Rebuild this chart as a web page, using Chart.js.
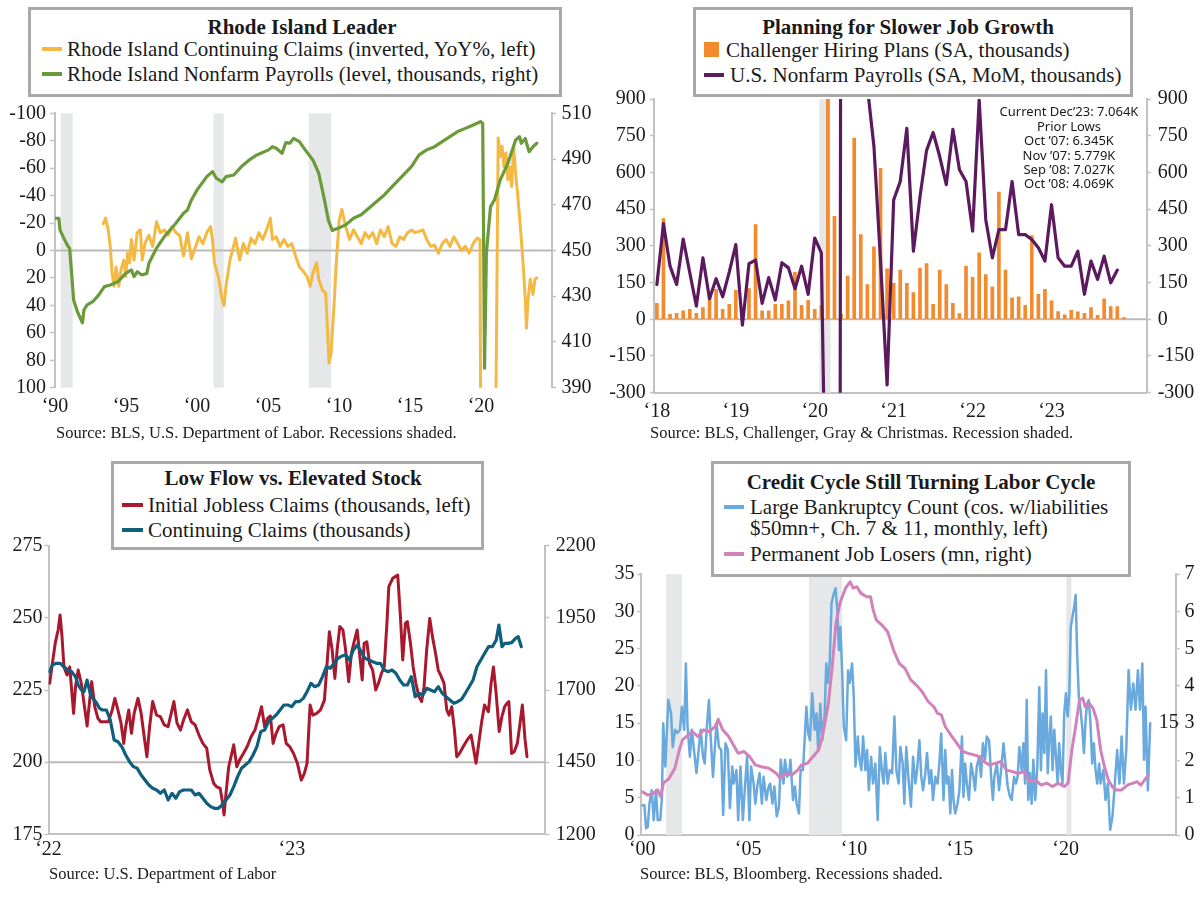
<!DOCTYPE html>
<html><head><meta charset="utf-8">
<script src="https://cdn.jsdelivr.net/npm/chart.js@4.4.0/dist/chart.umd.min.js"></script>
<style>
body{margin:0;background:#fff;width:1200px;height:898px;position:relative;overflow:hidden;}
canvas{position:absolute;}
.box{position:absolute;box-sizing:border-box;border:3px solid #a8a8a8;background:#fff;}
.t{position:absolute;white-space:nowrap;line-height:24px;height:24px;font-family:'Liberation Serif','Times New Roman',serif;font-size:21px;color:#1a1a1a;}
.b{font-weight:bold;}
.c{transform:translateX(-50%);}
.src{font-size:16.5px;}
.ann{position:absolute;white-space:nowrap;font-family:'Noto Sans',sans-serif;font-size:13px;line-height:14px;color:#1a1a1a;transform:translateX(-50%);}
.sw{position:absolute;}
</style></head>
<body>
<canvas id="c1" width="600" height="450" style="left:0;top:0"></canvas>
<canvas id="c2" width="600" height="450" style="left:600px;top:0"></canvas>
<canvas id="c3" width="600" height="448" style="left:0;top:450px"></canvas>
<canvas id="c4" width="600" height="448" style="left:600px;top:450px"></canvas>

<!-- Panel 1 legend -->
<div class="box" style="left:28px;top:7px;width:534px;height:90px"></div>
<div class="t b c" style="left:302px;top:15px">Rhode Island Leader</div>
<div class="sw" style="left:42px;top:47px;width:20px;height:4px;background:#F4B942"></div>
<div class="t" style="left:67px;top:37px">Rhode Island Continuing Claims (inverted, YoY%, left)</div>
<div class="sw" style="left:42px;top:72px;width:20px;height:4px;background:#6B9A3B"></div>
<div class="t" style="left:67px;top:62px">Rhode Island Nonfarm Payrolls (level, thousands, right)</div>
<div class="t src" style="left:56px;top:421px">Source: BLS, U.S. Department of Labor. Recessions shaded.</div>

<!-- Panel 2 legend -->
<div class="box" style="left:693px;top:7px;width:440px;height:90px"></div>
<div class="t b c" style="left:908px;top:15px">Planning for Slower Job Growth</div>
<div class="sw" style="left:704px;top:42px;width:15px;height:15px;background:#F28A2E"></div>
<div class="t" style="left:726px;top:38px">Challenger Hiring Plans (SA, thousands)</div>
<div class="sw" style="left:704px;top:73px;width:20px;height:4px;background:#5C1A5E"></div>
<div class="t" style="left:730px;top:63px">U.S. Nonfarm Payrolls (SA, MoM, thousands)</div>
<div class="t src" style="left:650px;top:421px">Source: BLS, Challenger, Gray &amp; Christmas. Recession shaded.</div>
<div class="ann" style="left:1069px;top:104px">Current Dec’23: 7.064K</div>
<div class="ann" style="left:1069px;top:119px">Prior Lows</div>
<div class="ann" style="left:1069px;top:133px">Oct ’07: 6.345K</div>
<div class="ann" style="left:1069px;top:148px">Nov ’07: 5.779K</div>
<div class="ann" style="left:1069px;top:162px">Sep ’08: 7.027K</div>
<div class="ann" style="left:1069px;top:176px">Oct ’08: 4.069K</div>

<!-- Panel 3 legend -->
<div class="box" style="left:111px;top:461px;width:373px;height:89px"></div>
<div class="t b c" style="left:293px;top:466px">Low Flow vs. Elevated Stock</div>
<div class="sw" style="left:122px;top:503px;width:21px;height:4px;background:#A8192E"></div>
<div class="t" style="left:148px;top:493px">Initial Jobless Claims (thousands, left)</div>
<div class="sw" style="left:122px;top:528px;width:21px;height:4px;background:#0F5E7B"></div>
<div class="t" style="left:148px;top:518px">Continuing Claims (thousands)</div>
<div class="t src" style="left:49px;top:862px">Source: U.S. Department of Labor</div>

<!-- Panel 4 legend -->
<div class="box" style="left:711px;top:461px;width:420px;height:116px"></div>
<div class="t b c" style="left:921px;top:470px">Credit Cycle Still Turning Labor Cycle</div>
<div class="sw" style="left:724px;top:505px;width:20px;height:4px;background:#6AA9DE"></div>
<div class="t" style="left:750px;top:495px">Large Bankruptcy Count (cos. w/liabilities</div>
<div class="t" style="left:750px;top:516px">$50mn+, Ch. 7 &amp; 11, monthly, left)</div>
<div class="sw" style="left:724px;top:552px;width:20px;height:4px;background:#D282BA"></div>
<div class="t" style="left:750px;top:542px">Permanent Job Losers (mn, right)</div>
<div class="t src" style="left:640px;top:862px">Source: BLS, Bloomberg. Recessions shaded.</div>

<script>
// ---------------- DATA ----------------
// Panel 1: Rhode Island
const riPayYears = [1990.00,1990.27,1990.35,1990.63,1990.90,1991.03,1991.17,1991.31,1991.58,1991.93,1992.04,1992.26,1992.66,1993.07,1993.48,1993.89,1994.43,1994.98,1995.38,1995.57,1995.79,1996.12,1996.47,1996.61,1997.15,1997.69,1998.51,1999.05,1999.33,1999.60,2000.01,2000.69,2001.09,2001.36,2001.77,2002.04,2002.59,2003.13,2003.68,2004.22,2005.04,2005.31,2005.58,2005.99,2006.26,2006.53,2006.80,2007.21,2007.62,2008.16,2008.57,2008.98,2009.25,2009.52,2009.93,2010.47,2011.02,2011.56,2012.10,2012.65,2013.19,2013.74,2014.42,2015.10,2015.64,2016.18,2016.73,2017.27,2017.81,2018.36,2018.90,2019.45,2019.99,2020.12,2020.25,2020.38,2020.67,2020.94,2021.35,2021.89,2022.44,2022.71,2022.84,2023.12,2023.25,2023.39,2023.66,2023.93];
const riPayVals = [464.1,464.1,459,455.3,452,451,440,428.4,423.2,418.4,424,426.2,427.6,430.5,434.2,434.9,436.4,440,441.5,438.6,440.7,439.3,440,444.4,451,456,461.9,466.3,467.7,472,476.5,482.3,484.5,481.6,480,482.3,483,486.7,489.6,491.8,494,495.4,494.7,492.5,497.2,496.9,499,497.6,494,489.6,483.8,472,463.3,458.8,459.7,461.2,464.1,465.6,468.5,471.4,474.3,477.9,482.3,486.7,491.8,494,495.4,497.6,499.8,502,503.4,504.9,506.4,505.5,398.5,448.8,469.2,472,480.8,488.1,498.3,499.8,496.9,499,496,493.2,495.4,496.9];
const riClaimYears = [1993.40,1993.56,1993.75,1993.89,1994.02,1994.16,1994.30,1994.49,1994.65,1994.84,1994.98,1995.11,1995.25,1995.38,1995.57,1995.79,1996.01,1996.14,1996.33,1996.61,1996.88,1997.15,1997.42,1997.69,1997.97,1998.24,1998.51,1998.78,1999.05,1999.33,1999.60,1999.87,2000.14,2000.41,2000.69,2000.96,2001.09,2001.23,2001.50,2001.77,2001.91,2002.04,2002.32,2002.72,2003.00,2003.27,2003.54,2003.81,2004.08,2004.36,2004.63,2004.90,2005.17,2005.31,2005.58,2005.85,2006.12,2006.40,2006.67,2006.94,2007.21,2007.48,2007.75,2007.97,2008.16,2008.43,2008.57,2008.84,2009.06,2009.20,2009.30,2009.44,2009.66,2009.79,2010.01,2010.20,2010.47,2010.74,2011.02,2011.29,2011.56,2011.83,2012.10,2012.38,2012.65,2012.92,2013.19,2013.46,2013.74,2014.01,2014.28,2014.55,2014.82,2015.10,2015.37,2015.64,2015.91,2016.18,2016.45,2016.73,2017.00,2017.27,2017.54,2017.81,2018.09,2018.36,2018.63,2018.90,2019.17,2019.45,2019.72,2019.93,2020.04,2020.40,2020.80,2021.02,2021.21,2021.35,2021.48,2021.62,2021.76,2021.89,2022.03,2022.16,2022.30,2022.44,2022.57,2022.71,2022.84,2022.98,2023.12,2023.20,2023.31,2023.47,2023.66,2023.80,2023.93];
const riClaimVals = [-19.4,-23.6,-15,-3,16.5,26,12,26,14,7,19,2,9,-8,7,-13,-15,7,-5,-11,-3,-21,-13,-15,-11,-17.5,-13,-11,4,-13,6,-2,-10,-5,-13,-17.5,-8,9,19,36,40,26,7,-9,7,-5,2,-9,-5,-13,-8,-15,-23.6,-8,-10,-3,-8,-3,-5,4,12,15,19,26,16.5,9,21,29,31,60,82,75,38,12,-22,-30,-17.5,-8,-15,-10,-5,-13,-9,-13,-5,-15,-10,-17.5,-5,-3,-10,-8,-13,-15,-13,-14,-15,-8,-3,-4,2,-5,-8,-3,-10,-5,0,-3,2,-5,-9,-8,300,1500,600,150,-82,-68.5,-76,-61,-71,-51.5,-61,-46.6,-76,-56,-42,-25,-8,12,36,56.6,36,21,32,21,20];
const riRecessions = [[1990.4,1991.25],[2001.17,2001.88],[2007.87,2009.45]];
const riXTicks = [1990,1995,2000,2005,2010,2015,2020];
const riXLabels = ['‘90','‘95','‘00','‘05','‘10','‘15','‘20'];

// Panel 2: Challenger hiring plans & NFP (month index 0 = Jan 2018)
const hireMonths = [0,1,2,3,4,5,6,7,8,9,10,11,12,13,14,15,16,17,18,19,20,21,22,23,24,25,26,27,28,29,30,31,32,33,34,35,36,37,38,39,40,41,42,43,44,45,46,47,48,49,50,51,52,53,54,55,56,57,58,59,60,61,62,63,64,65,66,67,68,69,70,71];
const hirePlans = [65,411,20,24,34,41,24,48,88,122,41,61,118,20,125,387,34,34,61,61,75,193,57,77,41,55,1300,421,20,176,740,346,142,296,617,206,147,201,147,109,209,228,61,201,142,65,23,217,171,271,183,133,520,201,88,92,57,342,102,122,75,31,18,37,30,24,48,16,84,52,52,7];
const nfpMoM = [142,391,217,142,328,190,54,251,84,166,92,193,305,-24,227,242,65,170,79,231,210,125,217,102,332,271,-1400,-20500,2700,4500,1700,1500,950,706,240,-268,488,563,780,278,500,690,763,665,550,776,611,563,360,896,407,251,366,366,563,346,346,326,292,238,468,251,217,217,278,102,238,163,258,149,201];
const usRecession = [[24.7,26.4]];
const usXTicks = [0,12,24,36,48,60];
const usXLabels = ['‘18','‘19','‘20','‘21','‘22','‘23'];

// Panel 3: weekly claims (week 0 = start of 2022)
const icWeeks = [0.25,0.83,1.49,2.07,2.48,2.9,3.31,3.97,4.55,4.97,5.38,5.8,6.37,7.04,7.62,8.28,8.69,9.27,9.93,10.6,11.18,12.0,12.83,13.66,14.24,14.9,15.56,16.14,16.56,17.22,17.8,18.38,19.2,19.87,20.53,21.11,21.69,22.35,23.18,24.0,24.83,25.66,26.32,26.9,27.57,28.31,28.97,29.8,30.63,31.46,32.28,33.11,33.94,34.6,35.43,36.01,36.84,37.25,37.67,38.08,38.66,39.16,39.74,40.4,40.98,41.81,42.63,43.46,44.29,45.12,45.7,46.36,47.02,47.6,48.18,48.84,49.5,50.33,51.0,51.74,52.57,53.4,54.23,54.89,55.46,56.12,56.7,57.53,58.36,59.19,59.77,60.26,60.85,61.43,61.92,62.5,63.16,63.74,64.4,64.98,65.56,66.22,66.8,67.3,67.71,68.29,68.87,69.54,70.2,70.78,71.44,72.02,72.6,73.01,73.84,74.92,75.5,75.99,76.57,76.99,77.65,78.23,78.81,79.47,80.05,80.55,81.13,81.79,82.37,83.03,83.61,84.27,84.85,85.43,85.93,86.51,87.09,87.58,88.16,88.99,89.82,90.65,91.23,91.72,92.3,92.88,93.54,94.37,94.95,95.45,96.03,96.69,97.27,97.85,98.34,98.76,99.34,99.92,100.58,101.16,101.66,102.24,102.65];
const icVals = [227.3,234.2,241.7,245.8,251,243.5,233,230.2,233,225,216.9,226.2,231.9,227.3,220.4,212.5,219.2,227.9,219.2,215.2,214,214,214,218,222.1,218,213.5,206.5,212.3,218.1,210,217,222.1,217,208.8,201.9,212.3,221,216.3,215.8,212.9,212.3,216.9,221,213.5,211.1,214.6,218.1,214,212.9,209.4,206.5,204.8,197.3,192.7,191.5,190.9,186.9,181.7,189.2,198.4,201.9,206,198.4,200.7,203,205.4,208.8,211.1,215.8,219.2,212.3,215.2,216,206.5,210,212.3,212.9,206.5,205.4,203,199.6,193.8,196.1,199.6,219.8,216.3,216.9,218.1,221.5,234.2,245.2,238.9,229,238.9,247,245.8,238.9,227.9,237.7,241.7,245.8,236.5,228.5,241.2,241.7,234.2,231.9,225,227.3,230.8,233,248.1,260.8,263.7,264.8,250.4,235.4,248.1,248.7,241.2,233,227.3,222.7,221,225.8,238.9,249.8,243.5,237.7,231.9,229.6,227.3,218.1,216.3,219.2,211.1,201.9,203,205.4,207.7,209.4,204.2,199.6,206.5,213.5,219.8,217.5,227.3,233,223.8,210.6,215.8,219.2,220.4,221,203,203.6,206.5,213.5,219.8,207.7,201.9];
const ccWeeks = [0.25,0.83,1.66,2.48,3.31,4.14,4.97,5.8,6.37,7.04,7.62,8.28,8.94,9.52,10.35,10.93,11.59,12.42,13.25,14.08,14.9,15.73,16.56,17.39,18.22,19.04,19.87,20.7,21.53,22.36,23.18,24.01,24.84,25.67,26.5,27.32,28.15,28.98,29.81,30.64,31.46,32.29,33.12,33.95,34.78,35.6,36.43,37.26,38.09,38.92,39.74,40.57,41.4,42.23,43.06,43.88,44.71,45.54,46.37,47.2,48.02,48.85,49.68,50.51,51.34,52.16,52.99,53.82,54.65,55.48,56.3,57.13,57.96,58.79,59.62,60.44,61.27,62.1,62.93,63.76,64.58,65.41,66.24,67.07,67.9,68.72,69.55,70.38,71.21,72.04,72.86,73.69,74.52,75.35,76.18,77.0,77.83,78.66,79.49,80.32,81.14,81.97,82.8,83.63,84.46,85.28,86.11,86.94,87.77,88.6,89.42,90.25,91.08,91.91,92.74,93.56,94.39,95.22,96.05,96.63,97.29,97.87,98.53,99.36,100.19,100.77,101.43];
const ccVals = [1763.5,1786.6,1792.4,1792.4,1780.8,1769.3,1763.5,1746.2,1717.3,1700,1694.2,1734.6,1688.5,1671.1,1653.8,1636.5,1630.7,1630.7,1596.1,1526.8,1521,1503.7,1474.8,1451.7,1434.4,1428.6,1405.5,1388.2,1370.9,1359.3,1353.5,1342,1353.5,1318.9,1342,1324.7,1347.8,1353.5,1353.5,1353.5,1336.3,1342,1324.7,1307.4,1295.8,1290.1,1290.1,1301.6,1318.9,1336.3,1365.1,1399.8,1428.6,1440.2,1451.7,1474.8,1503.7,1555.7,1561.4,1590.3,1601.8,1613.4,1630.7,1648,1648,1642.3,1659.6,1659.6,1671.1,1694.2,1723.1,1711.5,1717.3,1746.2,1780.8,1775.1,1792.4,1809.7,1817.8,1821.3,1803.9,1838.6,1855.9,1832.8,1809.7,1803.9,1798.2,1792.4,1792.4,1769.3,1763.5,1769.3,1757.8,1734.6,1717.3,1717.3,1746.2,1676.9,1688.5,1682.7,1705.8,1700,1694.2,1711.5,1688.5,1676.9,1665.4,1653.8,1659.6,1667.7,1688.5,1711.5,1734.6,1780.8,1803.9,1827,1850.1,1850.1,1873.2,1925.2,1850.1,1861.6,1861.6,1864,1879,1884.8,1850.1];
const clXTicks = [0,52.2];
const clXLabels = ['‘22','‘23'];

// Panel 4: bankruptcies & permanent job losers
const bkYears = [2000.0,2000.1,2000.18,2000.26,2000.34,2000.45,2000.54,2000.65,2000.73,2000.85,2000.93,2000.99,2001.09,2001.23,2001.36,2001.44,2001.55,2001.67,2001.78,2001.87,2001.98,2002.06,2002.14,2002.25,2002.34,2002.45,2002.56,2002.65,2002.76,2002.87,2002.95,2003.04,2003.15,2003.23,2003.34,2003.43,2003.51,2003.62,2003.73,2003.82,2003.93,2004.04,2004.14,2004.25,2004.32,2004.45,2004.53,2004.64,2004.75,2004.84,2004.95,2005.06,2005.14,2005.26,2005.34,2005.45,2005.54,2005.65,2005.73,2005.86,2005.97,2006.04,2006.15,2006.24,2006.35,2006.46,2006.54,2006.67,2006.74,2006.85,2006.95,2007.0,2007.12,2007.21,2007.29,2007.4,2007.48,2007.59,2007.67,2007.75,2007.84,2007.92,2008.03,2008.14,2008.23,2008.31,2008.41,2008.5,2008.61,2008.69,2008.77,2008.86,2008.94,2009.05,2009.13,2009.21,2009.29,2009.36,2009.44,2009.52,2009.63,2009.72,2009.8,2009.91,2009.99,2010.07,2010.18,2010.26,2010.35,2010.43,2010.54,2010.62,2010.7,2010.81,2010.9,2011.01,2011.12,2011.22,2011.33,2011.4,2011.48,2011.59,2011.69,2011.8,2011.91,2012.0,2012.11,2012.19,2012.3,2012.38,2012.47,2012.58,2012.69,2012.79,2012.9,2012.98,2013.09,2013.18,2013.26,2013.37,2013.45,2013.56,2013.65,2013.73,2013.84,2013.95,2014.03,2014.12,2014.23,2014.31,2014.39,2014.47,2014.55,2014.63,2014.7,2014.78,2014.89,2014.98,2015.1,2015.17,2015.25,2015.33,2015.43,2015.53,2015.64,2015.72,2015.8,2015.91,2016.0,2016.09,2016.19,2016.27,2016.38,2016.48,2016.56,2016.63,2016.75,2016.85,2016.95,2017.06,2017.17,2017.26,2017.37,2017.45,2017.56,2017.65,2017.73,2017.81,2017.92,2018.0,2018.08,2018.16,2018.23,2018.31,2018.39,2018.47,2018.56,2018.66,2018.75,2018.83,2018.91,2018.99,2019.07,2019.15,2019.22,2019.3,2019.38,2019.46,2019.54,2019.62,2019.69,2019.77,2019.85,2019.93,2020.01,2020.09,2020.17,2020.24,2020.32,2020.4,2020.47,2020.54,2020.62,2020.7,2020.78,2020.86,2020.94,2021.01,2021.09,2021.17,2021.25,2021.33,2021.41,2021.49,2021.58,2021.65,2021.78,2021.88,2021.99,2022.1,2022.21,2022.32,2022.43,2022.54,2022.64,2022.75,2022.86,2022.97,2023.08,2023.19,2023.3,2023.41,2023.51,2023.62,2023.7,2023.77,2023.88,2023.99];
const bkCount = [4.0,4.0,0.9,1.1,4.2,6.0,2.0,6.0,2.0,2.0,5.1,15.0,9.2,18.1,16.3,11.8,14.1,13.7,14.1,17.2,14.1,23.0,14.5,10.5,14.1,11.2,8.3,11.0,14.1,10.5,9.6,14.1,18.1,13.2,7.8,11.8,15.0,11.8,11.4,2.7,12.3,11.4,3.6,9.2,6.9,8.7,2.0,9.2,2.0,6.0,10.5,2.0,9.2,6.9,4.2,6.9,8.3,4.2,7.8,4.7,6.5,6.9,4.2,6.5,2.5,3.8,10.1,6.9,10.1,7.8,8.7,10.1,4.7,6.5,4.2,2.9,8.7,8.7,12.7,17.2,13.6,12.7,19.0,14.1,16.3,11.4,17.6,12.7,15.9,23.0,20.4,23.5,31.1,32.4,33.1,30.2,24.8,27.9,22.1,14.5,12.7,22.1,20.4,23.0,18.5,9.2,13.2,10.1,8.7,13.2,8.7,11.4,6.0,10.5,6.9,9.6,2.0,11.8,8.3,6.9,11.0,6.9,8.7,8.3,15.9,8.7,6.9,11.8,9.6,4.2,11.8,7.4,3.8,10.5,6.9,8.7,12.7,7.8,6.0,8.3,11.0,6.9,8.7,4.7,7.8,6.9,9.6,13.6,4.7,11.4,6.9,7.8,2.9,8.7,4.7,2.9,4.2,6.0,13.2,5.1,9.6,6.9,4.7,9.6,7.8,6.0,9.2,10.5,7.8,12.3,10.1,13.2,12.7,7.8,4.7,7.8,9.6,6.0,8.7,12.3,9.2,6.5,5.1,4.7,7.8,6.9,7.8,11.8,8.7,12.3,6.9,18.1,4.7,8.3,4.2,10.1,4.7,9.2,19.8,8.7,16.3,11.0,22.1,8.3,12.7,15.9,8.7,14.1,10.5,6.9,12.3,8.7,6.9,16.3,19.0,15.9,19.0,27.9,29.3,30.6,32.2,24.4,18.5,16.8,14.5,11.0,15.4,17.6,18.1,15.0,9.6,12.3,8.7,6.9,9.6,6.9,8.7,4.7,6.9,0.7,2.5,6.9,11.4,6.9,13.2,6.9,11.4,22.1,16.8,20.3,16.8,22.1,16.8,23.0,10.1,17.2,6.0,15];
const pjYears = [2000.0,2000.27,2000.54,2000.72,2000.87,2001.0,2001.27,2001.54,2001.75,2001.9,2002.08,2002.36,2002.63,2002.9,2003.17,2003.44,2003.59,2003.8,2004.08,2004.26,2004.53,2004.8,2005.07,2005.34,2005.62,2005.98,2006.34,2006.52,2006.79,2007.07,2007.34,2007.52,2007.79,2008.06,2008.33,2008.51,2008.79,2008.97,2009.15,2009.33,2009.6,2009.82,2009.96,2010.14,2010.33,2010.6,2010.78,2010.91,2011.05,2011.32,2011.59,2011.87,2012.14,2012.41,2012.68,2012.95,2013.22,2013.5,2013.77,2013.95,2014.13,2014.31,2014.58,2014.86,2015.13,2015.4,2015.67,2015.94,2016.12,2016.39,2016.67,2016.94,2017.21,2017.48,2017.75,2018.03,2018.3,2018.57,2018.84,2019.11,2019.38,2019.66,2019.93,2020.11,2020.29,2020.47,2020.65,2020.8,2020.92,2021.11,2021.29,2021.47,2021.65,2021.83,2022.01,2022.19,2022.37,2022.64,2022.92,2023.19,2023.37,2023.55,2023.73,2023.91];
const pjLosers = [1.16,1.07,1.12,1.21,1.03,1.39,1.52,1.79,2.28,2.55,2.64,2.77,2.64,2.82,2.77,2.91,3.1,2.82,2.64,2.46,2.19,2.24,2.1,1.88,1.83,1.79,1.65,1.52,1.65,1.61,1.74,1.88,1.92,2.1,2.28,2.64,3.53,4.51,5.68,6.21,6.62,6.79,6.62,6.66,6.48,6.39,6.39,6.03,5.77,5.63,5.45,4.96,4.6,4.47,4.16,4.02,3.84,3.58,3.44,3.26,3.22,2.91,2.68,2.46,2.24,2.19,2.15,2.1,1.97,1.88,1.92,1.97,1.74,1.7,1.65,1.7,1.43,1.48,1.34,1.39,1.3,1.39,1.3,1.39,2.28,2.91,3.62,3.67,3.44,3.53,3.4,3.08,2.28,1.83,1.48,1.3,1.21,1.21,1.34,1.39,1.43,1.34,1.48,1.61];
const bkRecessions = [[2001.12,2001.87],[2007.87,2009.44],[2020.03,2020.27]];
const bkXTicks = [2000,2005,2010,2015,2020];
const bkXLabels = ['‘00','‘05','‘10','‘15','‘20'];

// ---------------- RENDER ----------------
const SERIF = "'Liberation Serif','Times New Roman',serif";
const AXIS = '#c2c2c2';
const TXT = '#1a1a1a';
const pts = (xs, ys) => xs.map((x, i) => ({x, y: ys[i]}));

const DECOR = {
  c1: {bands: riRecessions, ref: {axis: 'y', value: 0}},
  c2: {bands: usRecession, ref: {axis: 'y', value: 0}},
  c3: {ref: {axis: 'y', value: 200}},
  c4: {bands: bkRecessions, endLabel: {dataset: 1, axis: 'y'}}
};
const decor = {
  id: 'decor',
  beforeDatasetsDraw(chart) {
    const o = DECOR[chart.canvas.id]; if (!o) return;
    const {ctx, chartArea: a, scales} = chart;
    ctx.save();
    if (o.bands) {
      ctx.fillStyle = '#e6e7e9';
      o.bands.forEach(([s, e]) => {
        const x1 = scales.x.getPixelForValue(s), x2 = scales.x.getPixelForValue(e);
        ctx.fillRect(x1, a.top, x2 - x1, a.bottom - a.top);
      });
    }
    if (o.ref) {
      const y = scales[o.ref.axis].getPixelForValue(o.ref.value);
      ctx.strokeStyle = '#bababa'; ctx.lineWidth = 2;
      ctx.beginPath(); ctx.moveTo(a.left, y); ctx.lineTo(a.right, y); ctx.stroke();
    }
    ctx.restore();
  },
  afterDraw(chart) {
    const o = DECOR[chart.canvas.id]; if (!o || !o.endLabel) return;
    const {ctx, chartArea: a, scales} = chart;
    const d = chart.data.datasets[o.endLabel.dataset].data;
    const last = d[d.length - 1];
    const y = scales[o.endLabel.axis].getPixelForValue(last.y);
    ctx.save();
    ctx.font = '20px ' + SERIF; ctx.fillStyle = TXT; ctx.textAlign = 'right'; ctx.textBaseline = 'middle';
    ctx.fillText(String(Math.round(last.y)), a.right + 3, y);
    ctx.restore();
  }
};

function yAxis(pos, min, max, step, width, pad, tl, extra) {
  return Object.assign({
    type: 'linear', position: pos, min, max,
    ticks: {stepSize: step, padding: pad, color: TXT, font: {family: SERIF, size: 20}, callback: v => String(v)},
    grid: {display: true, drawOnChartArea: false, drawTicks: true, tickLength: tl, tickColor: AXIS, tickWidth: 1.5},
    border: {display: true, color: AXIS, width: 2},
    afterFit: s => { s.width = width; }
  }, extra || {});
}
function xAxis(min, max, tickVals, labels, height, pad, showBorder) {
  return {
    type: 'linear', position: 'bottom', min, max, offset: false,
    afterBuildTicks: s => { s.ticks = tickVals.map(v => ({value: v})); },
    ticks: {autoSkip: false, maxRotation: 0, padding: pad, color: TXT, font: {family: SERIF, size: 20}, callback: (v, i) => labels[i]},
    grid: {display: false, drawTicks: false, offset: false},
    border: {display: showBorder, color: AXIS, width: 2},
    afterFit: s => { s.height = height; }
  };
}
function opts(padTop, scales) {
  return {
    responsive: false, maintainAspectRatio: false, animation: false, events: [],
    layout: {padding: {top: padTop, left: 0, right: 0, bottom: 0}},
    plugins: {legend: {display: false}, tooltip: {enabled: false}},
    elements: {point: {radius: 0}, line: {tension: 0, borderJoinStyle: 'round', borderCapStyle: 'round'}},
    scales
  };
}
const lineDs = (data, color, width, axis, order) => ({type: 'line', data, borderColor: color, borderWidth: width, yAxisID: axis, order, pointRadius: 0, fill: false});

// Panel 1
new Chart(document.getElementById('c1'), {
  type: 'line',
  data: {datasets: [
    lineDs(pts(riPayYears, riPayVals), '#6B9A3B', 3.2, 'y1', 0),
    lineDs(pts(riClaimYears, riClaimVals), '#F4B942', 3, 'y', 1)
  ]},
  options: opts(113.3, {
    x: xAxis(1990, 2025, riXTicks, riXLabels, 62.3, 7.3, false),
    y: yAxis('left', -100, 100, 20, 55, 4, 5, {reverse: true}),
    y1: yAxis('right', 390, 510, 20, 48, 5.5, 4)
  }),
  plugins: [decor]
});

// Panel 2
new Chart(document.getElementById('c2'), {
  type: 'bar',
  data: {datasets: [
    lineDs(pts(hireMonths.slice(0, nfpMoM.length), nfpMoM), '#5C1A5E', 3.2, 'y', 0),
    {type: 'bar', data: pts(hireMonths, hirePlans), backgroundColor: '#F28A2E', barThickness: 3, yAxisID: 'y', order: 1}
  ]},
  options: opts(99, {
    x: xAxis(-0.47, 74.5, usXTicks, usXLabels, 57.3, 7, true),
    y: yAxis('left', -300, 900, 150, 53.8, 4, 4),
    y1: yAxis('right', -300, 900, 150, 53.1, 6.8, 4)
  }),
  plugins: [decor]
});

// Panel 3
new Chart(document.getElementById('c3'), {
  type: 'line',
  data: {datasets: [
    lineDs(pts(ccWeeks, ccVals), '#0F5E7B', 3.2, 'y1', 0),
    lineDs(pts(icWeeks, icVals), '#A8192E', 3, 'y', 1)
  ]},
  options: opts(95.7, {
    x: xAxis(0, 106.6, clXTicks, clXLabels, 63.7, 3.7, true),
    y: yAxis('left', 175, 275, 25, 48.5, 2, 4),
    y1: yAxis('right', 1200, 2200, 250, 54.6, 6.4, 4)
  }),
  plugins: [decor]
});

// Panel 4
new Chart(document.getElementById('c4'), {
  type: 'line',
  data: {datasets: [
    lineDs(pts(pjYears, pjLosers), '#D282BA', 3, 'y1', 0),
    lineDs(pts(bkYears, bkCount), '#6AA9DE', 2.5, 'y', 1)
  ]},
  options: opts(124, {
    x: xAxis(1999.95, 2025.2, bkXTicks, bkXLabels, 63, 3, true),
    y: yAxis('left', 0, 35, 5, 41.2, 2.6, 4),
    y1: yAxis('right', 0, 7, 1, 24.2, 4.8, 4)
  }),
  plugins: [decor]
});
</script>
</body></html>
